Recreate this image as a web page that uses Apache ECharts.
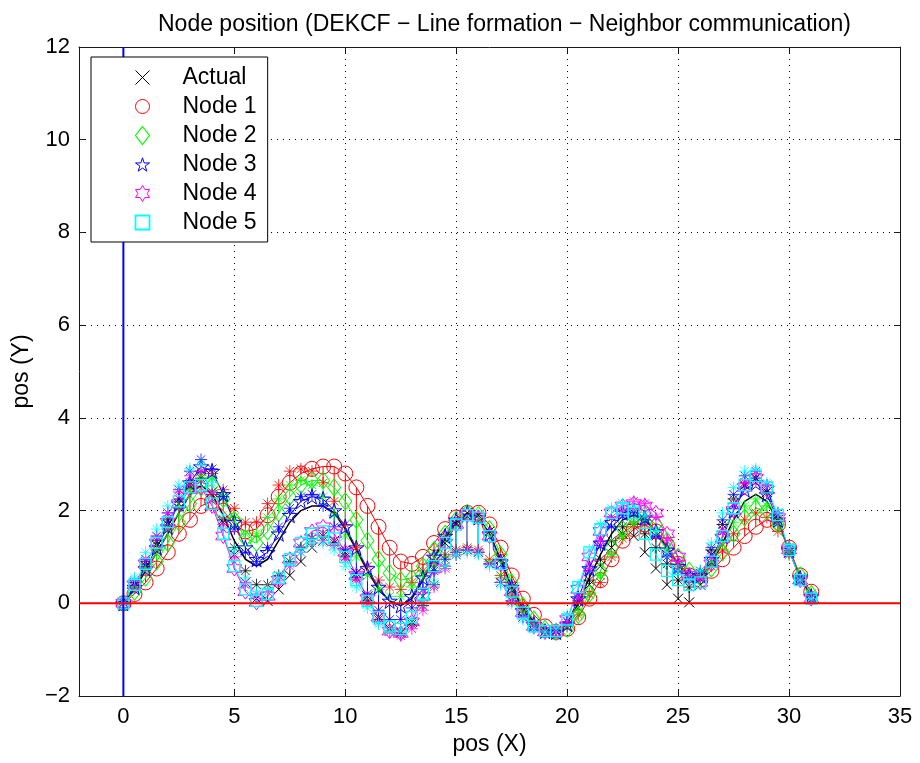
<!DOCTYPE html>
<html><head><meta charset="utf-8">
<script src="https://cdn.jsdelivr.net/npm/echarts@6/dist/echarts.min.js"></script>
<style>html,body{margin:0;padding:0;background:#fff}#c{width:920px;height:763px}</style>
</head><body><div id="c"></div>
<script>
const titleText = 'Node position (DEKCF \u2212 Line formation \u2212 Neighbor communication)';
const xName = 'pos (X)';
const yName = 'pos (Y)';
const xTicks = [0, 5, 10, 15, 20, 25, 30, 35];
const legendNames = ['Actual', 'Node 1', 'Node 2', 'Node 3', 'Node 4', 'Node 5'];

const posX = [0,0.5,1,1.5,2,2.5,3,3.5,4,4.5,5,5.5,6,
  6.5,7,7.5,8,8.5,9,9.5,10,10.5,11,11.5,12,12.5,
  13,13.5,14,14.5,15,15.5,16,16.5,17,17.5,18,18.5,19,
  19.5,20,20.5,21,21.5,22,22.5,23,23.5,24,24.5,25,25.5,
  26,26.5,27,27.5,28,28.5,29,29.5,30,30.5,31];

const actualY = [0,0.4,0.8,1.25,1.7,2.15,2.55,2.75,2.4,1.75,1.05,0.45,0.1,
  0.05,0.3,0.6,0.9,1.2,1.35,1.35,1.1,0.65,0.15,-0.3,-0.55,-0.62,
  -0.4,0.15,0.75,1.3,1.7,1.95,1.9,1.55,0.95,0.35,-0.15,-0.45,-0.6,
  -0.62,-0.5,-0.1,0.4,0.8,1.2,1.5,1.45,1.1,0.75,0.4,0.1,0.02,
  0.4,1.05,1.6,2.15,2.55,2.7,2.4,1.8,1.1,0.5,0.1];
const actualStarY = [0,0.45,0.9,1.35,1.8,2.25,2.6,2.7,2.35,1.8,1.2,0.7,0.4,
  0.4,0.6,0.9,1.2,1.4,1.45,1.3,1.0,0.55,0.05,-0.35,-0.6,-0.65,
  -0.45,-0.05,0.4,0.8,1.05,1.15,1.1,0.85,0.45,0.05,-0.3,-0.5,-0.62,
  -0.6,-0.4,0.05,0.5,0.95,1.35,1.65,1.7,1.5,1.2,0.85,0.5,0.35,
  0.65,1.15,1.7,2.25,2.6,2.7,2.4,1.8,1.1,0.5,0.1];

const node1Y = [0,0.2,0.45,0.75,1.1,1.5,1.8,2.1,2.2,2.0,1.7,1.55,1.6,
  1.9,2.3,2.6,2.8,2.9,2.95,2.95,2.8,2.5,2.1,1.65,1.2,0.9,
  0.85,1.0,1.3,1.6,1.85,1.95,1.95,1.7,1.2,0.6,0.1,-0.25,-0.5,
  -0.62,-0.55,-0.3,0.1,0.5,0.95,1.35,1.6,1.7,1.55,1.25,0.85,0.6,
  0.5,0.7,0.95,1.2,1.45,1.65,1.8,1.7,1.2,0.6,0.25];
const node1StarY = [0,0.35,0.75,1.15,1.6,2.05,2.5,2.85,2.8,2.45,2.05,1.75,1.75,
  2.15,2.55,2.85,2.9,2.85,2.6,2.2,1.7,1.2,0.8,0.5,0.35,0.3,
  0.45,0.7,0.9,1.05,1.15,1.2,1.15,0.95,0.6,0.2,-0.2,-0.45,-0.6,
  -0.62,-0.5,-0.25,0.2,0.45,1.0,1.4,1.65,1.7,1.45,1.1,0.75,0.55,
  0.55,0.8,1.15,1.5,1.8,1.95,1.85,1.55,1.05,0.55,0.2];

const node2Y = [0,0.25,0.55,0.9,1.3,1.75,2.15,2.5,2.55,2.25,1.8,1.4,1.3,
  1.55,1.95,2.3,2.55,2.65,2.65,2.5,2.2,1.8,1.35,0.95,0.65,0.5,
  0.55,0.8,1.15,1.5,1.8,1.95,1.9,1.6,1.05,0.45,-0.05,-0.35,-0.55,
  -0.62,-0.55,-0.25,0.2,0.7,1.2,1.6,1.85,1.9,1.7,1.35,1.0,0.7,
  0.55,0.75,1.1,1.5,1.85,2.05,2.0,1.7,1.15,0.6,0.2];
const node2StarY = [0,0.35,0.75,1.15,1.6,2.05,2.45,2.75,2.7,2.3,1.85,1.5,1.5,
  1.85,2.25,2.55,2.65,2.55,2.3,1.9,1.45,1.0,0.6,0.3,0.15,0.15,
  0.35,0.6,0.85,1.0,1.1,1.15,1.1,0.9,0.55,0.15,-0.2,-0.45,-0.6,
  -0.62,-0.5,-0.2,0.2,0.6,1.05,1.45,1.75,1.8,1.55,1.2,0.85,0.6,
  0.55,0.85,1.3,1.75,2.1,2.25,2.1,1.7,1.1,0.55,0.2];

const node3Y = [0,0.35,0.75,1.2,1.65,2.15,2.6,2.95,2.85,2.35,1.75,1.2,0.95,
  1.1,1.5,1.9,2.2,2.3,2.25,2.0,1.65,1.2,0.75,0.35,0.05,-0.05,
  0.15,0.55,1.0,1.45,1.8,1.95,1.85,1.5,0.9,0.35,-0.15,-0.45,-0.6,
  -0.62,-0.45,0.1,0.75,1.3,1.75,1.95,2.0,1.85,1.55,1.15,0.8,0.6,
  0.6,0.95,1.45,2.0,2.45,2.6,2.35,1.8,1.15,0.55,0.15];
const node3StarY = [0,0.45,0.95,1.45,1.95,2.45,2.85,3.1,2.9,2.3,1.6,1.1,0.9,
  1.2,1.65,2.05,2.3,2.35,2.1,1.65,1.15,0.65,0.2,-0.15,-0.35,-0.35,
  -0.1,0.3,0.7,0.95,1.1,1.15,1.1,0.85,0.45,0.05,-0.3,-0.5,-0.62,
  -0.6,-0.4,0.1,0.7,1.25,1.65,1.9,1.95,1.8,1.45,1.0,0.7,0.55,
  0.7,1.2,1.8,2.35,2.75,2.85,2.55,1.95,1.2,0.55,0.15];

const node4Y = [0,0.4,0.85,1.3,1.75,2.15,2.45,2.5,2.1,1.45,0.75,0.25,0.02,
  0.15,0.5,0.95,1.3,1.55,1.65,1.5,1.1,0.6,0.1,-0.3,-0.6,-0.65,
  -0.4,0.15,0.75,1.3,1.7,1.9,1.85,1.45,0.85,0.25,-0.2,-0.5,-0.62,
  -0.6,-0.35,0.3,1.0,1.55,1.95,2.1,2.15,2.1,1.95,1.5,1.0,0.6,
  0.45,0.85,1.4,2.0,2.5,2.7,2.45,1.85,1.15,0.5,0.1];
const node4StarY = [0,0.5,0.95,1.45,1.95,2.4,2.75,2.85,2.4,1.7,1.0,0.45,0.2,
  0.25,0.5,0.8,1.1,1.3,1.35,1.25,0.95,0.5,0.0,-0.4,-0.62,-0.7,
  -0.55,-0.15,0.35,0.75,1.05,1.15,1.1,0.85,0.45,0.05,-0.3,-0.5,-0.62,
  -0.62,-0.4,0.1,0.75,1.35,1.85,2.1,2.2,2.15,1.85,1.35,0.9,0.6,
  0.55,1.0,1.55,2.15,2.6,2.8,2.55,1.95,1.2,0.5,0.1];

const node5Y = [0,0.4,0.85,1.3,1.75,2.2,2.5,2.55,2.15,1.5,0.8,0.3,0.05,
  0.2,0.55,0.95,1.3,1.5,1.55,1.4,1.0,0.5,0.05,-0.3,-0.5,-0.55,
  -0.3,0.2,0.8,1.3,1.7,1.9,1.85,1.45,0.85,0.25,-0.2,-0.5,-0.6,
  -0.6,-0.35,0.35,1.1,1.6,1.95,2.05,1.95,1.5,1.05,0.7,0.5,0.4,
  0.45,0.9,1.45,2.05,2.55,2.75,2.5,1.9,1.15,0.5,0.1];
const node5StarY = [0,0.55,1.1,1.6,2.1,2.55,2.9,3.0,2.6,1.9,1.15,0.55,0.25,
  0.3,0.55,0.85,1.1,1.3,1.3,1.15,0.8,0.35,-0.1,-0.45,-0.6,-0.6,
  -0.35,0.05,0.45,0.8,1.05,1.1,1.05,0.8,0.4,0.0,-0.35,-0.55,-0.62,
  -0.55,-0.25,0.4,1.15,1.7,2.05,2.15,2.1,1.9,1.55,1.1,0.7,0.5,
  0.7,1.3,1.95,2.5,2.85,2.9,2.6,1.95,1.2,0.5,0.1];

const fusedY = [0,0.3,0.7,1.1,1.5,1.95,2.35,2.55,2.35,1.9,1.35,0.95,0.8,
  0.95,1.35,1.75,2.0,2.1,2.1,1.95,1.6,1.15,0.7,0.3,0.05,-0.05,
  0.1,0.5,0.95,1.4,1.75,1.9,1.85,1.5,0.95,0.35,-0.1,-0.4,-0.57,
  -0.62,-0.45,0.0,0.55,1.05,1.5,1.8,1.9,1.8,1.55,1.2,0.85,0.6,
  0.55,0.85,1.3,1.8,2.2,2.35,2.2,1.75,1.15,0.55,0.15];

const zeroVertical = [[0, -2], [0, 12]];
const zeroHorizontal = [[-2, 0], [35, 0]];

const FONT = '"Liberation Sans", Arial, Helvetica, sans-serif';
const SYM = {
  x: 'path://M0,0L10,10M10,0L0,10',
  ast: 'path://M5,0L5,10M0,5L10,5M1.46,1.46L8.54,8.54M8.54,1.46L1.46,8.54',
  pent: 'path://M10,0L12.25,6.91L19.51,6.91L13.63,11.18L15.88,18.09L10,13.82L4.12,18.09L6.37,11.18L0.49,6.91L7.75,6.91Z',
  hex: 'path://M10,0L12.89,5L18.66,5L15.77,10L18.66,15L12.89,15L10,20L7.11,15L1.34,15L4.23,10L1.34,5L7.11,5Z',
  sq: 'path://M0,0L10,0L10,10L0,10Z',
  dia: 'path://M7,0L14,9L7,18L0,9Z'
};
const groups = [
  {name: legendNames[0], color: '#000000', y: actualY, s: actualStarY, symbol: SYM.x, size: 10, line: false, icon: SYM.x, iconW: 1},
  {name: legendNames[1], color: '#ff0000', y: node1Y, s: node1StarY, symbol: 'circle', size: 15, line: true, icon: 'circle', iconW: 1},
  {name: legendNames[2], color: '#00ff00', y: node2Y, s: node2StarY, symbol: 'diamond', size: [13, 17], line: true, icon: SYM.dia, iconW: 1.2},
  {name: legendNames[3], color: '#0000ff', y: node3Y, s: node3StarY, symbol: SYM.pent, size: 15, line: true, icon: SYM.pent, iconW: 1},
  {name: legendNames[4], color: '#ff00ff', y: node4Y, s: node4StarY, symbol: SYM.hex, size: 15, line: true, icon: SYM.hex, iconW: 1},
  {name: legendNames[5], color: '#00ffff', y: node5Y, s: node5StarY, symbol: 'rect', size: 11, line: true, icon: SYM.sq, iconW: 1.8}
];
const pairs = ys => posX.map((x, i) => [x, ys[i]]);

const series = [];
groups.forEach(g => {
  const seg = [];
  posX.forEach((x, i) => { seg.push([x, g.y[i]], [x, g.s[i]], ['-', '-']); });
  series.push({type: 'line', data: seg, symbol: 'none', connectNulls: false, silent: true,
    lineStyle: {color: g.color, width: 1}, z: 2});
});
series.push({type: 'line', data: pairs(fusedY), symbol: 'none', silent: true,
  lineStyle: {color: '#000', width: 1.5}, z: 2});
groups.forEach(g => {
  series.push({type: 'scatter', data: pairs(g.s), symbol: SYM.ast, symbolSize: 12, silent: true,
    itemStyle: {color: 'none', borderColor: g.color, borderWidth: 1}, z: 3});
  series.push({type: 'line', name: g.name, data: pairs(g.y), symbol: g.symbol, symbolSize: g.size,
    showSymbol: true, showAllSymbol: true, silent: true,
    lineStyle: {color: g.color, width: g.line ? 1 : 0, opacity: g.line ? 1 : 0},
    itemStyle: {color: 'none', borderColor: g.color, borderWidth: g.symbol === 'rect' ? 1.3 : 1}, z: 3});
});
series.push({type: 'line', data: zeroVertical, symbol: 'none', silent: true,
  lineStyle: {color: '#0000ff', width: 2}, z: 4});
series.push({type: 'line', data: zeroHorizontal, symbol: 'none', silent: true,
  lineStyle: {color: '#ff0000', width: 2}, z: 4});

const axisColor = '#1a1a1a';
const gridLine = {show: true, lineStyle: {type: [1, 5], color: '#000', width: 1}};

const chart = echarts.init(document.getElementById('c'), null, {renderer: 'canvas'});
chart.setOption({
  animation: false,
  backgroundColor: '#fff',
  textStyle: {fontFamily: FONT},
  title: {text: titleText, left: 153, top: 8,
    textStyle: {fontFamily: FONT, fontSize: 23, fontWeight: 'normal', color: '#000'}},
  grid: {left: 79, right: 20, top: 47, bottom: 67, containLabel: false},
  legend: {
    data: groups.map(g => ({name: g.name, icon: g.icon,
      itemStyle: {color: 'none', borderColor: g.color, borderWidth: g.iconW}})),
    orient: 'vertical', left: 91, top: 57, itemWidth: 14, itemHeight: 23, itemGap: 6,
    padding: [9, 11, 8, 42], borderColor: '#000', borderWidth: 1, backgroundColor: '#fff',
    selectedMode: false, z: 10,
    textStyle: {fontFamily: FONT, fontSize: 23, color: '#000', padding: [0, 0, 0, 28]}
  },
  xAxis: [
    {type: 'value', min: -2, max: 35, position: 'bottom',
      name: xName, nameLocation: 'middle', nameGap: 37,
      nameTextStyle: {fontFamily: FONT, fontSize: 23, color: '#000'},
      axisLine: {show: true, onZero: false, lineStyle: {color: axisColor}},
      axisTick: {show: true, inside: true, length: 6, customValues: xTicks, lineStyle: {color: axisColor}},
      axisLabel: {customValues: xTicks, fontFamily: FONT, fontSize: 22, color: '#000', margin: 10},
      splitLine: gridLine},
    {type: 'value', min: -2, max: 35, position: 'top',
      axisLine: {show: true, onZero: false, lineStyle: {color: axisColor}},
      axisTick: {show: true, inside: true, length: 6, customValues: xTicks, lineStyle: {color: axisColor}},
      axisLabel: {show: false, customValues: xTicks}, splitLine: {show: false}}
  ],
  yAxis: [
    {type: 'value', min: -2, max: 12, interval: 2, position: 'left',
      name: yName, nameLocation: 'middle', nameGap: 46,
      nameTextStyle: {fontFamily: FONT, fontSize: 23, color: '#000'},
      axisLine: {show: true, onZero: false, lineStyle: {color: axisColor}},
      axisTick: {show: true, inside: true, length: 6, lineStyle: {color: axisColor}},
      axisLabel: {fontFamily: FONT, fontSize: 22, color: '#000', margin: 9,
        formatter: v => v < 0 ? '\u2212' + (-v) : String(v)},
      splitLine: gridLine},
    {type: 'value', min: -2, max: 12, interval: 2, position: 'right',
      axisLine: {show: true, onZero: false, lineStyle: {color: axisColor}},
      axisTick: {show: true, inside: true, length: 6, lineStyle: {color: axisColor}},
      axisLabel: {show: false}, splitLine: {show: false}}
  ],
  series: series
});
</script>
</body></html>
